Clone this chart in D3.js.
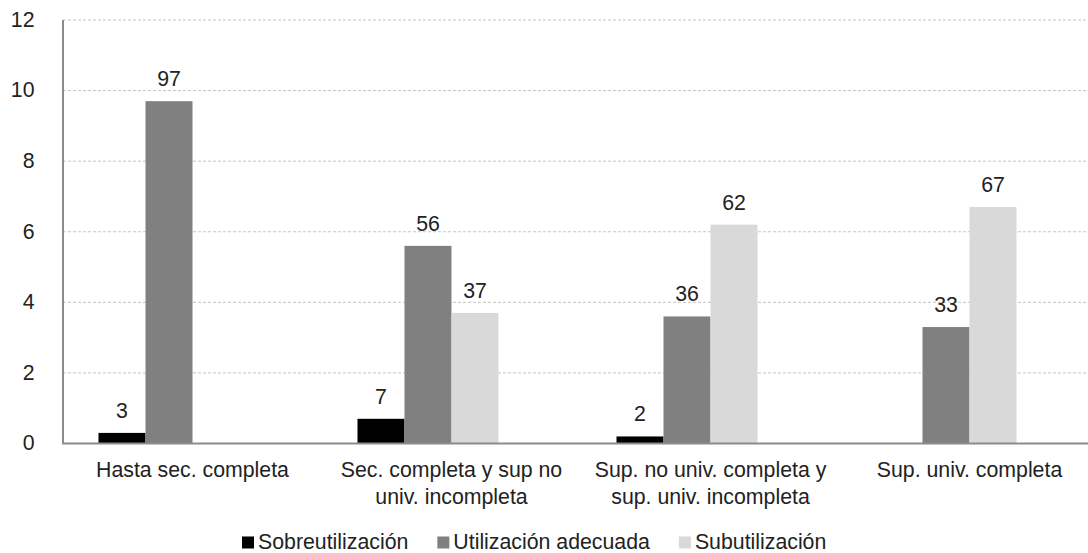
<!DOCTYPE html>
<html>
<head>
<meta charset="utf-8">
<script src="https://cdn.jsdelivr.net/npm/d3@7"></script>
<style>
  html, body { margin: 0; padding: 0; background: #fff; }
  svg { display: block; font-family: "Liberation Sans", Arial, Helvetica, sans-serif; }
</style>
</head>
<body>
<svg id="chart" width="1088" height="553"></svg>
<script>
// Education level groups (each label split into its display lines)
const categories = [
  "Hasta sec. completa",
  "Sec. completa y sup no univ. incompleta",
  "Sup. no univ. completa y sup. univ. incompleta",
  "Sup. univ. completa"
];
const categoryLines = [
  ["Hasta sec. completa"],
  ["Sec. completa y sup no", "univ. incompleta"],
  ["Sup. no univ. completa y", "sup. univ. incompleta"],
  ["Sup. univ. completa"]
];

const seriesNames = ["Sobreutilización", "Utilización adecuada", "Subutilización"];
const seriesColors = ["#000000", "#808080", "#d9d9d9"];

// Values per series, one per category (null = no bar)
const sobreutilizacion = [3, 7, 2, null];
const utilizacionAdecuada = [97, 56, 36, 33];
const subutilizacion = [null, 37, 62, 67];
const seriesValues = [sobreutilizacion, utilizacionAdecuada, subutilizacion];

// Axis tick labels (axis unit is one tenth of the data unit)
const yTickLabels = [0, 2, 4, 6, 8, 10, 12];
const axisUnit = 10;

const svg = d3.select("#chart");
const textColor = "#222222";
const fontSize = 21.3;

const plotLeft = 63, plotRight = 1099, plotTop = 20, plotBottom = 443.5;

const x0 = d3.scaleBand().domain(categories).range([plotLeft, plotRight]);
const barW = x0.bandwidth() * 0.1815;
const groupOffset = (x0.bandwidth() - 4 * barW) / 2;
const x1 = d3.scaleBand().domain(seriesNames)
  .range([groupOffset, groupOffset + 3 * barW]);

const y = d3.scaleLinear().domain([0, 12 * axisUnit]).range([plotBottom, plotTop]);
const tickVals = yTickLabels.map(t => t * axisUnit);

// Horizontal dotted gridlines
svg.append("g")
  .selectAll("line")
  .data(tickVals.filter(v => v > 0))
  .join("line")
  .attr("x1", plotLeft).attr("x2", plotRight)
  .attr("y1", d => y(d)).attr("y2", d => y(d))
  .attr("stroke", "#c4c4c4")
  .attr("stroke-width", 1)
  .attr("stroke-dasharray", "3,2");

// Y axis tick labels
const yAxis = d3.axisLeft(y)
  .tickValues(tickVals)
  .tickSize(0)
  .tickPadding(0)
  .tickFormat(d => d3.format("d")(d / axisUnit));
const yG = svg.append("g").attr("transform", "translate(34.5,0)").call(yAxis);
yG.select(".domain").remove();
yG.selectAll("text")
  .attr("fill", textColor)
  .attr("font-size", fontSize)
  .attr("font-family", "\"Liberation Sans\", Arial, sans-serif")
  .attr("dy", "0.3em");

// Bars
const flat = [];
categories.forEach((c, i) => {
  seriesNames.forEach((s, j) => {
    const v = seriesValues[j][i];
    if (v != null) flat.push({ cat: c, series: s, color: seriesColors[j], value: v });
  });
});

svg.append("g")
  .selectAll("rect")
  .data(flat)
  .join("rect")
  .attr("x", d => x0(d.cat) + x1(d.series))
  .attr("y", d => y(d.value))
  .attr("width", x1.bandwidth())
  .attr("height", d => y(0) - y(d.value))
  .attr("fill", d => d.color);

// Value labels above bars
svg.append("g")
  .selectAll("text")
  .data(flat)
  .join("text")
  .attr("x", d => x0(d.cat) + x1(d.series) + x1.bandwidth() / 2)
  .attr("y", d => y(d.value) - 15)
  .attr("text-anchor", "middle")
  .attr("font-size", fontSize)
  .attr("fill", textColor)
  .text(d => d.value);

// Axis lines
svg.append("line")
  .attr("x1", plotLeft).attr("x2", plotLeft)
  .attr("y1", plotTop).attr("y2", plotBottom)
  .attr("stroke", "#8c8c8c").attr("stroke-width", 2);
svg.append("line")
  .attr("x1", plotLeft - 1).attr("x2", plotRight)
  .attr("y1", plotBottom).attr("y2", plotBottom)
  .attr("stroke", "#8c8c8c").attr("stroke-width", 2);

// Category labels
const catG = svg.append("g");
categories.forEach((c, i) => {
  const cx = x0(c) + x0.bandwidth() / 2;
  const t = catG.append("text")
    .attr("text-anchor", "middle")
    .attr("font-size", fontSize)
    .attr("fill", textColor);
  categoryLines[i].forEach((line, k) => {
    t.append("tspan")
      .attr("x", cx)
      .attr("y", 477 + k * 26.5)
      .text(line);
  });
});

// Legend
const legend = svg.append("g");
let lx = 242;
const legendBaseline = 548.5;
seriesNames.forEach((s, j) => {
  legend.append("rect")
    .attr("x", lx).attr("y", legendBaseline - 12)
    .attr("width", 12).attr("height", 12)
    .attr("fill", seriesColors[j]);
  const t = legend.append("text")
    .attr("x", lx + 16).attr("y", legendBaseline)
    .attr("font-size", fontSize)
    .attr("fill", textColor)
    .text(s);
  lx += 16 + t.node().getComputedTextLength() + 29;
});
</script>
</body>
</html>
